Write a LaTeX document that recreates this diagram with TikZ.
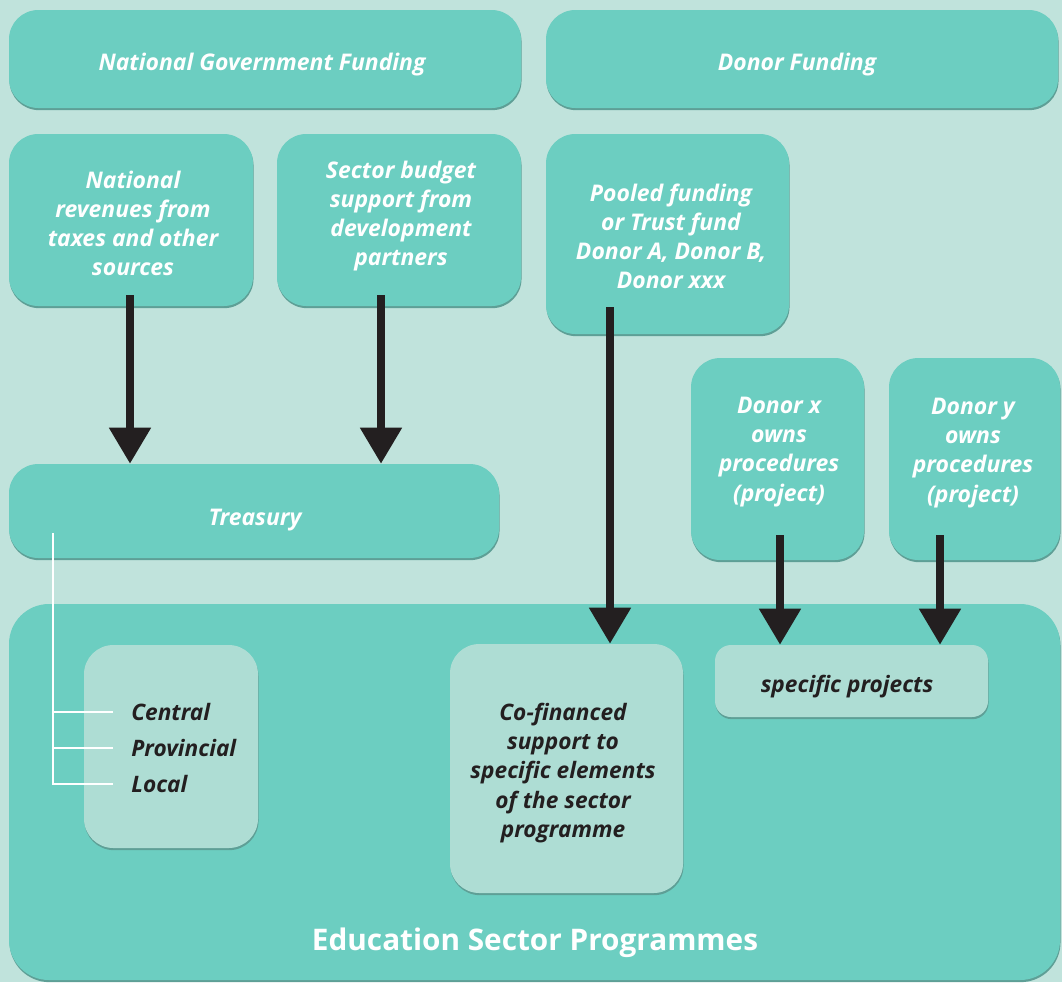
\documentclass[tikz,border=0pt]{standalone}
\usepackage{fontspec}
\setmainfont{Open Sans}
\usetikzlibrary{arrows.meta,fit,shadows}
\definecolor{bg}{HTML}{C0E3DC}
\definecolor{boxc}{HTML}{6CCEC1}
\definecolor{lboxc}{HTML}{AEDDD4}
\definecolor{shd}{HTML}{5E9F96}
\definecolor{ink}{HTML}{231F20}
\tikzset{
  panel/.style={draw=none, fill=boxc, rounded corners=22pt, inner sep=0pt,
    general shadow={fill=shd, shadow yshift=-1.6pt, shadow xshift=0.4pt}},
  lpanel/.style={panel, fill=lboxc},
  wtext/.style={text=white, inner sep=0pt, align=center,
    font=\bfseries\itshape\fontsize{17.2}{21.8}\selectfont},
  dtext/.style={wtext, text=ink, font=\bfseries\itshape\fontsize{17}{21.8}\selectfont},
  arr/.style={line width=6pt, draw=ink, -{Triangle[width=30pt,length=27pt,fill=ink]}},
  tree/.style={draw=white, line width=1.6pt}
}
\begin{document}
\begin{tikzpicture}[x=0.75pt,y=-0.75pt]
\fill[bg] (0,0) rectangle (1062,982);
\useasboundingbox (0,0) rectangle (1062,982);
\begin{scope}
\clip (0,0) rectangle (1062,982);
% top row
\node[panel, fit={(9,10) (521,108)}] (ngf) {};
\node[wtext] (ngft) at (262,65) {National Government Funding};
\node[panel, fit={(546,10) (1058,108)}] (df) {};
\node[wtext] (dft) at (797,65) {Donor Funding};
% second row
\node[panel, fit={(9,134) (253,306)}] (rev) {};
\node[wtext] (revt) at (133,223) {National\\revenues from\\taxes and other\\sources};
\node[panel, fit={(277,134) (521,306)}] (sbs) {};
\node[wtext] (sbst) at (401,216) {Sector budget\\support from\\development\\partners};
\node[panel, fit={(546,134) (789,334)}] (pool) {};
\node[wtext] (poolt) at (671,236) {Pooled funding\\or Trust fund\\Donor A, Donor B,\\Donor xxx};
% donor project boxes
\node[panel, fit={(691,358) (864,560)}] (dx) {};
\node[wtext] (dxt) at (779,452) {Donor x\\owns\\procedures\\(project)};
\node[panel, fit={(889,358) (1060,560)}] (dy) {};
\node[wtext] (dyt) at (973,453) {Donor y\\owns\\procedures\\(project)};
% treasury
\node[panel, fit={(9,464) (499,558)}] (treas) {};
\node[wtext] (treast) at (255,520) {Treasury};
% education sector
\node[panel, rounded corners=30pt, fit={(9,604) (1060,980)}] (edu) {};
\node[text=white, inner sep=0pt, font=\bfseries\fontsize{22.3}{26}\selectfont] (edut) at (535,943) {Education Sector Programmes};
\node[lpanel, fit={(84,645) (258,848)}] (cpl) {};
\node[lpanel, fit={(450,644) (683,893)}] (cof) {};
\node[dtext] (coft) at (563,773) {Co-financed\\support to\\specific elements\\of the sector\\programme};
\node[lpanel, rounded corners=12pt, fit={(715,645) (988,717)}] (sp) {};
\node[dtext] (spt) at (847,687) {specific projects};
% levels
\node[dtext, anchor=west] (cen) at (131,712) {Central};
\node[dtext, anchor=west] (prov) at (131,748) {Provincial};
\node[dtext, anchor=west] (loc) at (131,784) {Local};
\coordinate (tr) at (53,533);
\draw[tree] (tr) -- (tr |- loc) -- ([xshift=-13.5pt]loc.west);
\draw[tree] (tr |- cen) -- ([xshift=-13.5pt]cen.west);
\draw[tree] (tr |- prov) -- ([xshift=-13.5pt]prov.west);
% arrows
\coordinate (a1) at (130,295);
\coordinate (a2) at (381,295);
\coordinate (a3) at (610,307);
\coordinate (a4) at (780,535);
\coordinate (a5) at (940,535);
\draw[arr] (a1) -- (a1 |- treas.north);
\draw[arr] (a2) -- (a2 |- treas.north);
\draw[arr] (a3) -- (a3 |- cof.north);
\draw[arr] (a4) -- (a4 |- sp.north);
\draw[arr] (a5) -- (a5 |- sp.north);
\end{scope}
\end{tikzpicture}
\end{document}
